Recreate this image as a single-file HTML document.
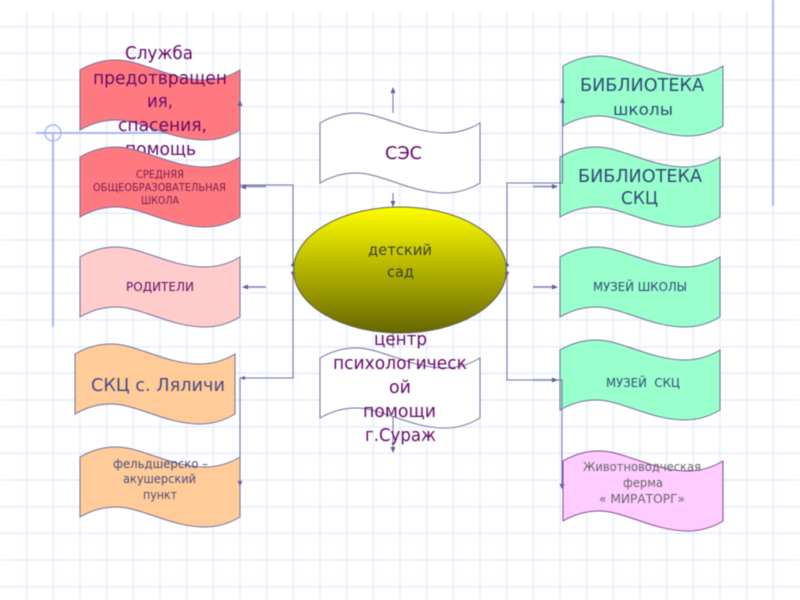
<!DOCTYPE html>
<html><head><meta charset="utf-8"><style>
html,body{margin:0;padding:0;background:#fff;width:800px;height:600px;overflow:hidden}
svg{display:block;filter:blur(0.4px)}
text{font-family:"DejaVu Sans","Liberation Sans",sans-serif}
.g{stroke:#e6ebfc;stroke-width:1.5;fill:none}
.c{stroke:#6f6fa3;stroke-width:1;fill:none}
.l{stroke:#9a9ac4;stroke-width:2;fill:none}
.a{fill:#5f5f98}
.f{stroke:#6f6f9a;stroke-width:1}
.p{fill:#660a66}.b{fill:#2f4a78}.d{fill:#44445f}.o{fill:#4a4a80}.m{fill:#666}
</style></head><body>
<svg width="800" height="600" viewBox="0 0 800 600" xmlns="http://www.w3.org/2000/svg">
<defs>
<linearGradient id="y" x1="0" y1="0" x2="0" y2="1"><stop offset="0" stop-color="#ffff00"/><stop offset="1" stop-color="#666600"/></linearGradient>
<path id="w" d="M0 10C12 3 24 0 36 0C62 0 90 20 125 20C138 20 150 16 160 10V70C150 76 138 80 125 80C90 80 62 60 36 60C24 60 12 63 0 70Z"/>
</defs>
<path class="g" d="M26.7 13V600M53.3 13V600M80 13V600M106.7 13V600M133.3 13V600M160 13V600M186.7 13V600M213.3 13V600M240 13V600M266.7 13V600M293.3 13V600M320 13V600M346.7 13V600M373.3 13V600M400 13V600M426.7 13V600M453.3 13V600M480 13V600M506.7 13V600M533.3 13V600M560 13V600M586.7 13V600M613.3 13V600M640 13V600M666.7 13V600M693.3 13V600M720 13V600M746.7 13V600M773.3 13V600"/>
<path class="g" d="M0 26.7H800M0 53.3H800M0 80H800M0 106.7H800M0 133.3H800M0 160H800M0 186.7H800M0 213.3H800M0 240H800M0 266.7H800M0 293.3H800M0 320H800M0 346.7H800M0 373.3H800M0 400H800M0 426.7H800M0 453.3H800M0 480H800M0 506.7H800M0 533.3H800M0 560H800M0 586.7H800"/>
<g stroke="#a9b6ee" stroke-width="2" fill="none"><path d="M773 0V206M53 133V327M36 133H170"/><circle cx="53" cy="133" r="8" stroke-width="1.5"/></g>

<use href="#w" x="80" y="60" fill="#ff7a80" class="f"/>
<g font-size="18" class="p">
<text x="125" y="59" textLength="68" lengthAdjust="spacingAndGlyphs">Служба</text>
<text x="93" y="84" textLength="134" lengthAdjust="spacingAndGlyphs">предотвращен</text>
<text x="147" y="107" textLength="26" lengthAdjust="spacingAndGlyphs">ия,</text>
<text x="118" y="131" textLength="89" lengthAdjust="spacingAndGlyphs">спасения,</text>
<text x="125" y="155" textLength="71" lengthAdjust="spacingAndGlyphs">помощь</text>
</g>
<use href="#w" x="80" y="147" fill="#ff7a80" class="f"/>
<use href="#w" x="80" y="247" fill="#ffcccc" class="f"/>
<use href="#w" x="75" y="344" fill="#ffcc99" class="f"/>
<use href="#w" x="80" y="447" fill="#ffcc99" class="f"/>
<use href="#w" x="320" y="113" fill="#fff" class="f"/>
<use href="#w" x="320" y="348" fill="#fff" class="f"/>
<use href="#w" x="563" y="56" fill="#99ffcc" class="f"/>
<use href="#w" x="560" y="147" fill="#99ffcc" class="f"/>
<use href="#w" x="560" y="247" fill="#99ffcc" class="f"/>
<use href="#w" x="560" y="340" fill="#99ffcc" class="f"/>
<use href="#w" x="563" y="451" fill="#ffccff" stroke="#804a90" stroke-width="1"/>

<ellipse cx="400" cy="270" rx="106.5" ry="63" fill="url(#y)" stroke="#5f5f50" stroke-width="1"/>

<path class="c" d="M293 265V185H240M240 185V103M293 272V378H240V484M507 265V183H562.5V100M507 272V380H562V486M393 88V113M393 193V207M393 333V348M393 417V452"/>
<path class="l" d="M246 186.500H266M246 287H266M533 186.500H554M533 287H554M533 380H554"/>
<path class="a" d="M240 187l6-2.500v5ZM242 287l6-2.500v5ZM558 186.500l-6-2.500v5ZM558 287l-6-2.500v5ZM558 380l-6-2.500v5ZM240 100l-2.500 6h5ZM562.500 97l-2.500 6h5ZM393 87l-2.500 6h5ZM393 207l-2.500-6h5ZM393 453l-2.500-6h5ZM240 486l-2.500-5h5ZM562 489l-2.500-5h5ZM240 378l5-2v4Z"/>
<circle cx="293" cy="265" r="1.800" class="a"/><circle cx="293" cy="273" r="1.800" class="a"/><circle cx="507" cy="265" r="1.800" class="a"/><circle cx="507" cy="273" r="1.800" class="a"/>

<g font-size="18" class="p">
<text x="385" y="159" textLength="37" lengthAdjust="spacingAndGlyphs">СЭС</text>
<text x="374" y="345" textLength="53" lengthAdjust="spacingAndGlyphs">центр</text>
<text x="333" y="369" textLength="134" lengthAdjust="spacingAndGlyphs">психологическ</text>
<text x="389" y="393" textLength="22" lengthAdjust="spacingAndGlyphs">ой</text>
<text x="363" y="417" textLength="73" lengthAdjust="spacingAndGlyphs">помощи</text>
<text x="365" y="441" textLength="71" lengthAdjust="spacingAndGlyphs">г.Сураж</text>
</g>
<g font-size="10.500" style="fill:#7a1a50">
<text x="136" y="178" textLength="48" lengthAdjust="spacingAndGlyphs">СРЕДНЯЯ</text>
<text x="93" y="191" textLength="133" lengthAdjust="spacingAndGlyphs">ОБЩЕОБРАЗОВАТЕЛЬНАЯ</text>
<text x="141" y="204" textLength="38" lengthAdjust="spacingAndGlyphs">ШКОЛА</text>
</g>
<text class="p" font-size="12" x="126" y="291" textLength="68" lengthAdjust="spacingAndGlyphs">РОДИТЕЛИ</text>
<text class="o" font-size="18" x="91" y="391" textLength="134" lengthAdjust="spacingAndGlyphs">СКЦ с. Ляличи</text>
<g class="o" font-size="12">
<text x="113" y="468" textLength="95" lengthAdjust="spacingAndGlyphs">фельдшерско –</text>
<text x="123" y="483" textLength="73" lengthAdjust="spacingAndGlyphs">акушерский</text>
<text x="143" y="499" textLength="34" lengthAdjust="spacingAndGlyphs">пункт</text>
</g>
<g fill="#3d3d30" font-size="15.500">
<text x="368" y="255" textLength="64" lengthAdjust="spacingAndGlyphs">детский</text>
<text x="387" y="277" textLength="27" lengthAdjust="spacingAndGlyphs">сад</text>
</g>
<g class="b" font-size="18">
<text x="580" y="91" textLength="124" lengthAdjust="spacingAndGlyphs">БИБЛИОТЕКА</text>
<text x="578" y="182" textLength="124" lengthAdjust="spacingAndGlyphs">БИБЛИОТЕКА</text>
<text x="621" y="204" textLength="37" lengthAdjust="spacingAndGlyphs">СКЦ</text>
</g>
<text class="b" font-size="16" x="613" y="115" textLength="60" lengthAdjust="spacingAndGlyphs">школы</text>
<text class="b" font-size="12" x="593" y="291" textLength="94" lengthAdjust="spacingAndGlyphs">МУЗЕЙ ШКОЛЫ</text>
<text class="b" font-size="12" x="606" y="387" textLength="74" lengthAdjust="spacingAndGlyphs" xml:space="preserve">МУЗЕЙ  СКЦ</text>
<g class="m" font-size="12">
<text x="583" y="471" textLength="118" lengthAdjust="spacingAndGlyphs">Животноводческая</text>
<text x="623" y="487" textLength="40" lengthAdjust="spacingAndGlyphs">ферма</text>
<text x="599" y="503" textLength="86" lengthAdjust="spacingAndGlyphs">« МИРАТОРГ»</text>
</g>
</svg>
</body></html>
